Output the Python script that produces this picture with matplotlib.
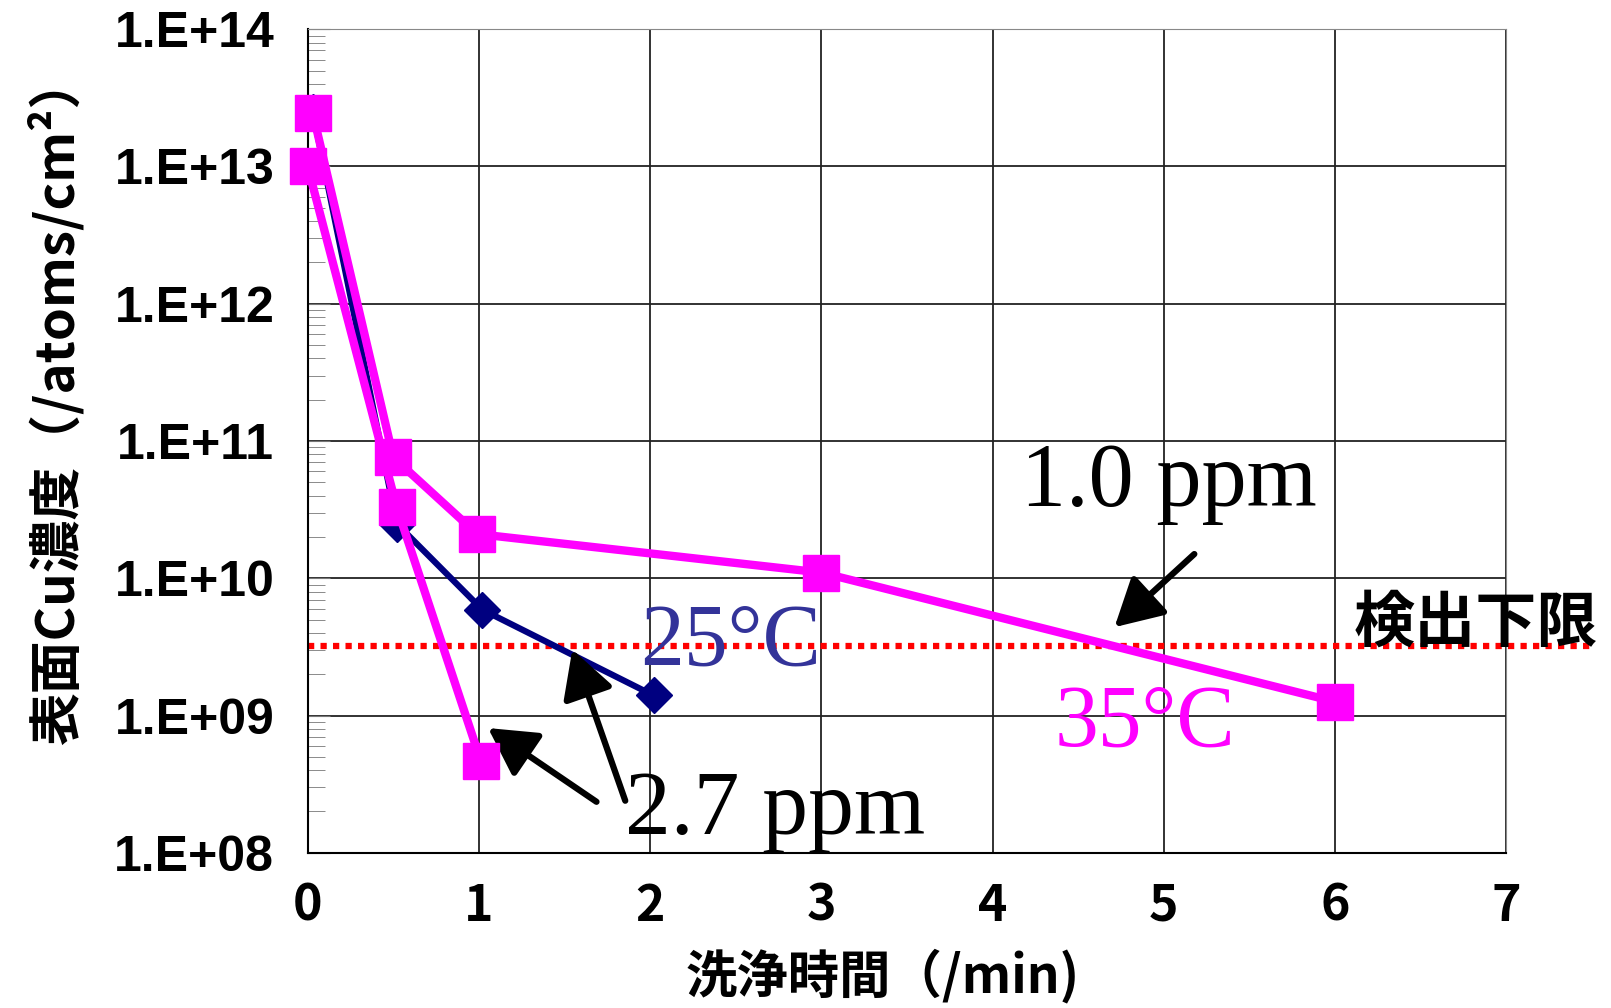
import numpy as np
import matplotlib.pyplot as plt

plt.rcParams['font.family'] = ['Noto Sans CJK JP', 'DejaVu Sans']

# 25°C, 2.7 ppm
t_25 = [0.03, 0.52, 1.02, 2.02]
cu_25 = [2.5e13, 2.5e10, 5.9e9, 1.4e9]

# 35°C, 2.7 ppm
t_35_27 = [0.0, 0.52, 1.01]
cu_35_27 = [1.0e13, 3.3e10, 4.7e8]

# 35°C, 1.0 ppm
t_35_10 = [0.03, 0.5, 0.99, 3.0, 6.0]
cu_35_10 = [2.45e13, 7.6e10, 2.1e10, 1.1e10, 1.26e9]

detect_limit = 3.2e9

fig = plt.figure(figsize=(16.11, 10.08), dpi=100)
ax = fig.add_axes([0.191, 0.154, 0.744, 0.817])
ax.set_yscale('log')
ax.set_xlim(0, 7)
ax.set_ylim(1e8, 1e14)

ax.grid(True, which='major', color='#222222', linewidth=1.3)
ax.set_axisbelow(True)

ax.plot(t_25, cu_25, color='#000080', lw=4.5, marker='D', ms=18, zorder=3, clip_on=False)
ax.plot(t_35_10, cu_35_10, color='#ff00ff', lw=6, marker='s', ms=26, zorder=4, clip_on=False)
ax.plot(t_35_27, cu_35_27, color='#ff00ff', lw=6, marker='s', ms=26, zorder=4, clip_on=False)

# detection limit line, runs past the right edge
ax.plot([0, 7.5], [detect_limit, detect_limit], color='#ff0000', lw=4.5,
        linestyle=(0, (1, 1)), clip_on=False, zorder=2)

# labels and arrows
serif = 'Liberation Serif'
ax.text(5.03, 10**10.69, '1.0 ppm', family=serif, fontsize=65, ha='center', va='center')
ax.text(2.47, 10**9.53, '25°C', family=serif, fontsize=63, color='#333399', ha='center', va='center')
ax.text(4.89, 10**8.94, '35°C', family=serif, fontsize=63, color='#ff00ff', ha='center', va='center')
ax.text(2.73, 10**8.30, '2.7 ppm', family=serif, fontsize=66, ha='center', va='center', zorder=6)
ax.text(6.82, 10**9.67, '検出下限', fontsize=44, fontweight='bold', ha='center', va='center',
        clip_on=False, zorder=6)

arrow = dict(arrowstyle='-|>,head_length=2.9,head_width=1.6', color='black', lw=4.5)
ax.annotate('', xy=(4.70, 10**9.63), xytext=(5.19, 10**10.19), arrowprops=arrow)
ax.annotate('', xy=(1.04, 10**8.92), xytext=(1.70, 10**8.36), arrowprops=arrow)
ax.annotate('', xy=(1.54, 10**9.50), xytext=(1.86, 10**8.36), arrowprops=arrow)

ax.set_yticks([1e8, 1e9, 1e10, 1e11, 1e12, 1e13, 1e14])
ax.set_yticklabels(['1.E+08', '1.E+09', '1.E+10', '1.E+11', '1.E+12', '1.E+13', '1.E+14'],
                   family='Liberation Sans', fontweight='bold', fontsize=36)
ax.set_xticks(range(8))
ax.set_xticklabels([str(i) for i in range(8)], fontsize=36, fontweight='bold')
ax.tick_params(axis='x', length=0, pad=20)
ax.tick_params(axis='y', which='major', direction='in', length=16, color='#777777', pad=24)
ax.tick_params(axis='y', which='minor', direction='in', length=12, color='#777777')

for s in ['right', 'top']:
    ax.spines[s].set_color('#888888')
ax.spines['left'].set_linewidth(1.5)
ax.spines['bottom'].set_linewidth(1.5)

ax.set_xlabel('洗浄時間（/min)', fontsize=37, fontweight='bold')
ax.xaxis.set_label_coords(0.48, -0.116)
ax.set_ylabel('表面Cu濃度（/atoms/cm²）', fontsize=38, fontweight='bold')
ax.yaxis.set_label_coords(-0.186, 0.55)

fig.savefig('out.png', dpi=100)
